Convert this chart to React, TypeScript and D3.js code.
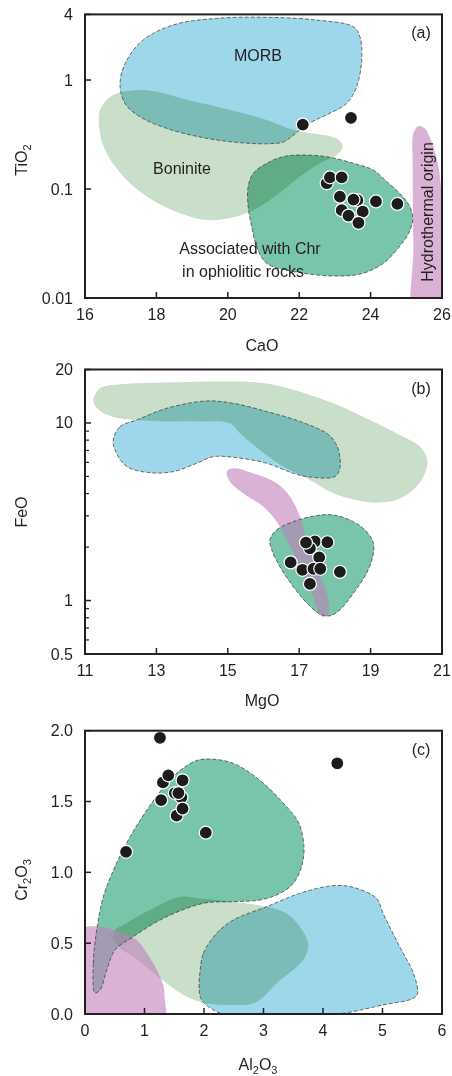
import React from "react";
import * as d3 from "d3";

// ---- panel (a): CaO vs TiO2 ----
const caoTicks = [16, 18, 20, 22, 24, 26];
const tio2Ticks = [0.01, 0.1, 1, 4];
const samplesA: [number, number][] = [
  [22.1, 0.39], [23.45, 0.45], [22.77, 0.113], [22.86, 0.128], [23.19, 0.128],
  [23.14, 0.085], [23.63, 0.079], [23.52, 0.08], [24.15, 0.077], [24.75, 0.073],
  [23.19, 0.064], [23.38, 0.057], [23.78, 0.062], [23.66, 0.049],
];
const morbA: [number, number][] = [
  [16.98, 0.93], [17.17, 1.52], [17.63, 2.33], [18.47, 3.2], [19.69, 3.68], [21.09, 3.76],
  [22.49, 3.55], [23.52, 3.08], [23.7, 2.5], [23.75, 1.52], [23.61, 0.87], [23.33, 0.61],
  [22.77, 0.48], [22.21, 0.39], [21.83, 0.31], [21.55, 0.27], [21.09, 0.26], [20.15, 0.27],
  [19.22, 0.3], [18.29, 0.36], [17.54, 0.46], [17.12, 0.61],
];
const boniniteA: [number, number][] = [
  [23.22, 0.244], [23.05, 0.205], [22.58, 0.172], [22.02, 0.13], [21.55, 0.098], [20.9, 0.069],
  [20.15, 0.055], [19.41, 0.052], [18.66, 0.06], [17.82, 0.082], [17.17, 0.121], [16.61, 0.212],
  [16.42, 0.324], [16.42, 0.53], [16.7, 0.7], [16.98, 0.77], [17.54, 0.81], [18.01, 0.78],
  [18.85, 0.66], [19.69, 0.57], [20.9, 0.45], [21.83, 0.35], [22.49, 0.32], [23.05, 0.29],
];
const chrA: [number, number][] = [
  [20.57, 0.105], [20.71, 0.139], [21.09, 0.172], [21.55, 0.198], [22.02, 0.205], [22.77, 0.198],
  [23.52, 0.172], [24.08, 0.149], [24.45, 0.117], [24.82, 0.091], [25.1, 0.069], [25.18, 0.052],
  [25.06, 0.039], [24.73, 0.0276], [24.36, 0.0208], [23.8, 0.0169], [23.14, 0.0159],
  [22.02, 0.0171], [21.09, 0.0208], [20.81, 0.0296], [20.67, 0.045], [20.57, 0.069],
];
const hydroA: [number, number][] = [
  [25.2, 0.324], [25.34, 0.378], [25.52, 0.36], [25.76, 0.244], [25.9, 0.16], [25.97, 0.105],
  [26.0, 0.03], [26.0, 0.006], [25.24, 0.006], [25.2, 0.03], [25.18, 0.16],
];

// ---- panel (b): MgO vs FeO ----
const mgoTicks = [11, 13, 15, 17, 19, 21];
const feoTicks = [0.5, 1, 10, 20];
const feoMinor = [0.6, 0.7, 0.8, 0.9, 2, 3, 4, 5, 6, 7, 8, 9];
const samplesB: [number, number][] = [
  [17.44, 2.15], [17.3, 1.97], [17.19, 2.12], [17.79, 2.13], [17.56, 1.75], [16.76, 1.64],
  [17.09, 1.49], [17.4, 1.51], [17.59, 1.51], [18.14, 1.45], [17.3, 1.24],
];
const boniniteB: [number, number][] = [
  [11.28, 14.4], [11.42, 15.7], [12.17, 16.6], [13.29, 16.9], [15.15, 17.1], [16.09, 16.7],
  [17.02, 15.0], [17.96, 12.9], [18.89, 10.6], [19.82, 8.55], [20.38, 7.36], [20.59, 6.19],
  [20.48, 4.99], [20.2, 4.2], [19.73, 3.69], [19.26, 3.56], [18.7, 3.64], [17.96, 4.02],
  [17.3, 4.78], [16.55, 5.68], [15.9, 7.05], [15.34, 8.75], [15.06, 9.96], [14.22, 10.2],
  [13.29, 10.2], [12.45, 10.4], [11.79, 10.8], [11.33, 12.1], [11.23, 13.5],
];
const morbB: [number, number][] = [
  [11.79, 8.02], [11.98, 9.53], [12.45, 10.4], [13.29, 12.1], [14.41, 13.3], [15.15, 12.9],
  [16.09, 11.6], [17.02, 10.2], [17.77, 8.75], [17.96, 8.02], [18.1, 7.05], [18.14, 5.56],
  [18.0, 4.99], [17.21, 4.99], [16.83, 5.21], [16.09, 5.93], [15.15, 6.41], [14.59, 6.46],
  [14.13, 5.93], [13.47, 5.32], [12.82, 5.25], [12.17, 5.68], [11.84, 7.05],
];
const hydroB: [number, number][] = [
  [14.97, 5.32], [15.15, 5.56], [15.71, 5.21], [16.37, 4.58], [16.74, 3.85], [17.02, 2.97],
  [17.21, 2.2], [17.49, 1.55], [17.77, 1.1], [17.82, 0.85], [17.72, 0.81], [17.58, 0.83],
  [17.39, 1.05], [17.02, 1.55], [16.65, 2.2], [16.37, 2.78], [15.99, 3.38], [15.43, 4.02],
  [15.06, 4.67],
];
const chrB: [number, number][] = [
  [16.18, 2.2], [16.37, 2.5], [16.83, 2.78], [17.49, 3.01], [17.96, 3.03], [18.52, 2.78],
  [18.89, 2.44], [19.08, 2.1], [19.06, 1.77], [18.89, 1.43], [18.52, 1.1], [18.14, 0.886],
  [17.86, 0.82], [17.58, 0.84], [17.21, 0.97], [16.83, 1.2], [16.46, 1.55], [16.23, 1.93],
];

// ---- panel (c): Al2O3 vs Cr2O3 ----
const al2o3Ticks = [0, 1, 2, 3, 4, 5, 6];
const cr2o3Ticks = [0, 0.5, 1.0, 1.5, 2.0];
const samplesC: [number, number][] = [
  [1.26, 1.95], [4.24, 1.77], [1.31, 1.635], [1.4, 1.685], [1.64, 1.65], [1.51, 1.56],
  [1.62, 1.53], [1.57, 1.56], [1.28, 1.51], [1.54, 1.4], [1.64, 1.45], [2.03, 1.28], [0.69, 1.145],
];
const chrC: [number, number][] = [
  [0.168, 0.15], [0.14, 0.358], [0.197, 0.593], [0.308, 0.828], [0.504, 1.04], [0.756, 1.25],
  [1.04, 1.44], [1.32, 1.6], [1.6, 1.72], [1.88, 1.79], [2.1, 1.8], [2.49, 1.77], [2.94, 1.65],
  [3.33, 1.49], [3.59, 1.35], [3.68, 1.18], [3.64, 1.04], [3.5, 0.922], [3.28, 0.852],
  [2.94, 0.805], [2.49, 0.793], [2.05, 0.786], [1.71, 0.746], [1.26, 0.663], [0.81, 0.546],
  [0.504, 0.452], [0.365, 0.31], [0.252, 0.169],
];
const boniniteC: [number, number][] = [
  [0.504, 0.593], [0.644, 0.628], [1.09, 0.734], [1.6, 0.828], [1.93, 0.816], [2.49, 0.793],
  [3.05, 0.757], [3.39, 0.71], [3.61, 0.616], [3.75, 0.499], [3.7, 0.404], [3.5, 0.31],
  [3.28, 0.24], [3.0, 0.122], [2.83, 0.075], [2.49, 0.064], [2.05, 0.075], [1.71, 0.122],
  [1.37, 0.217], [1.09, 0.31], [0.81, 0.404], [0.56, 0.475], [0.476, 0.546],
];
const morbC: [number, number][] = [
  [1.93, 0.287], [1.99, 0.428], [2.21, 0.569], [2.49, 0.663], [3.05, 0.757], [3.61, 0.852],
  [4.17, 0.906], [4.51, 0.894], [4.9, 0.816], [5.01, 0.71], [5.29, 0.475], [5.52, 0.287],
  [5.59, 0.146], [5.52, 0.111], [5.01, 0.064], [4.34, 0.005], [3.4, -0.03], [2.49, -0.02],
  [2.16, 0.028], [1.96, 0.099], [1.92, 0.169],
];
const hydroC: [number, number][] = [
  [0.017, 0.616], [0.252, 0.616], [0.588, 0.58], [0.869, 0.522], [1.04, 0.428], [1.21, 0.31],
  [1.32, 0.193], [1.34, 0.099], [1.34, -0.05], [0.6, -0.1], [-0.1, -0.1], [-0.1, 0.6],
];

const FONT = "'Liberation Sans', Arial, sans-serif";
const INK = "#231f20";
const left = 85;
const right = 442;

const COLORS = {
  morb: "#9dd7e9",
  boninite: "#c9dfc9",
  chr: "#79c5a9",
  hydro: "#c07fb9",
};

type Shape = { pts: [number, number][]; kind: "morb" | "boninite" | "chr" | "hydro"; outline: boolean };

function Panel(props: {
  id: string;
  top: number;
  bottom: number;
  x: any;
  y: any;
  xTicks: number[];
  yTicks: number[];
  yFmt: (v: number) => string;
  yMinor?: number[];
  shapes: Shape[];
  samples: [number, number][];
  label: string;
  children?: React.ReactNode;
}) {
  const { id, top, bottom, x, y, shapes, samples } = props;
  const line = d3
    .line<[number, number]>()
    .x((d) => x(d[0]))
    .y((d) => y(d[1]))
    .curve(d3.curveCatmullRomClosed.alpha(0.5));

  return (
    <g>
      <defs>
        <clipPath id={"clip-" + id}>
          <rect x={left} y={top} width={right - left} height={bottom - top} />
        </clipPath>
      </defs>
      <g clipPath={`url(#clip-${id})`}>
        {shapes.map((s, i) => (
          <path
            key={"f" + i}
            d={line(s.pts) || ""}
            fill={COLORS[s.kind]}
            fillOpacity={s.kind === "hydro" ? 0.6 : 1}
            style={{ mixBlendMode: s.kind === "hydro" ? "normal" : "multiply" }}
          />
        ))}
        {shapes
          .filter((s) => s.outline)
          .map((s, i) => (
            <path
              key={"o" + i}
              d={line(s.pts) || ""}
              fill="none"
              stroke="#333"
              strokeWidth={0.7}
              strokeDasharray="4,2"
            />
          ))}
        {samples.map((d, i) => (
          <circle key={"p" + i} cx={x(d[0])} cy={y(d[1])} r={6.5} fill="#1c1c1c" stroke="#fff" strokeWidth={1.2} />
        ))}
      </g>
      {props.children}
      {/* ticks drawn inward */}
      {props.xTicks.map((t) => (
        <g key={"xt" + t}>
          <line x1={x(t)} x2={x(t)} y1={bottom} y2={bottom - 6} stroke={INK} strokeWidth={1.5} />
          <text x={x(t)} y={bottom + 22} textAnchor="middle" fontSize={16} fontFamily={FONT} fill={INK}>
            {t}
          </text>
        </g>
      ))}
      {props.yTicks.map((t) => (
        <g key={"yt" + t}>
          <line x1={left} x2={left + 6} y1={y(t)} y2={y(t)} stroke={INK} strokeWidth={1.5} />
          <text x={73} y={y(t) + 5.5} textAnchor="end" fontSize={16} fontFamily={FONT} fill={INK}>
            {props.yFmt(t)}
          </text>
        </g>
      ))}
      {(props.yMinor || []).map((t) => (
        <line key={"ym" + t} x1={left} x2={left + 4} y1={y(t)} y2={y(t)} stroke={INK} strokeWidth={1.2} />
      ))}
      <rect x={left} y={top} width={right - left} height={bottom - top} fill="none" stroke={INK} strokeWidth={2} />
      <text x={421} y={top + 24} textAnchor="middle" fontSize={16} fontFamily={FONT} fill={INK}>
        {props.label}
      </text>
    </g>
  );
}

export default function App() {
  const xA = d3.scaleLinear().domain([16, 26]).range([left, right]);
  const yA = d3.scaleLog().domain([0.01, 4]).range([298, 14.4]);
  const xB = d3.scaleLinear().domain([11, 21]).range([left, right]);
  const yB = d3.scaleLog().domain([0.5, 20]).range([654, 369.5]);
  const xC = d3.scaleLinear().domain([0, 6]).range([left, right]);
  const yC = d3.scaleLinear().domain([0, 2]).range([1014, 730.7]);

  const titleProps = { fontSize: 16, fontFamily: FONT, fill: INK };

  return (
    <svg width={452} height={1076} style={{ position: "absolute", left: 0, top: 0, background: "#fff" }}>
      <Panel
        id="a"
        top={14.4}
        bottom={298}
        x={xA}
        y={yA}
        xTicks={caoTicks}
        yTicks={tio2Ticks}
        yFmt={(v) => String(v)}
        shapes={[
          { pts: boniniteA, kind: "boninite", outline: false },
          { pts: morbA, kind: "morb", outline: true },
          { pts: chrA, kind: "chr", outline: true },
          { pts: hydroA, kind: "hydro", outline: false },
        ]}
        samples={samplesA}
        label="(a)"
      >
        <text x={258} y={61} textAnchor="middle" {...titleProps}>MORB</text>
        <text x={182} y={174} textAnchor="middle" {...titleProps}>Boninite</text>
        <text x={250} y={254} textAnchor="middle" {...titleProps}>Associated with Chr</text>
        <text x={243} y={277} textAnchor="middle" {...titleProps}>in ophiolitic rocks</text>
        <text transform="translate(433,212) rotate(-90)" textAnchor="middle" {...titleProps}>
          Hydrothermal origin
        </text>
      </Panel>
      <text x={262} y={351} textAnchor="middle" {...titleProps}>CaO</text>
      <text transform="translate(27,160) rotate(-90)" textAnchor="middle" {...titleProps}>
        TiO<tspan fontSize={11} dy={4}>2</tspan>
      </text>

      <Panel
        id="b"
        top={369.5}
        bottom={654}
        x={xB}
        y={yB}
        xTicks={mgoTicks}
        yTicks={feoTicks}
        yMinor={feoMinor}
        yFmt={(v) => String(v)}
        shapes={[
          { pts: boniniteB, kind: "boninite", outline: false },
          { pts: morbB, kind: "morb", outline: true },
          { pts: chrB, kind: "chr", outline: true },
          { pts: hydroB, kind: "hydro", outline: false },
        ]}
        samples={samplesB}
        label="(b)"
      />
      <text x={262} y={706} textAnchor="middle" {...titleProps}>MgO</text>
      <text transform="translate(27,512) rotate(-90)" textAnchor="middle" {...titleProps}>
        FeO
      </text>

      <Panel
        id="c"
        top={730.7}
        bottom={1014}
        x={xC}
        y={yC}
        xTicks={al2o3Ticks}
        yTicks={cr2o3Ticks}
        yFmt={(v) => v.toFixed(1)}
        shapes={[
          { pts: chrC, kind: "chr", outline: true },
          { pts: boniniteC, kind: "boninite", outline: false },
          { pts: morbC, kind: "morb", outline: true },
          { pts: hydroC, kind: "hydro", outline: false },
        ]}
        samples={samplesC}
        label="(c)"
      />
      <text x={258} y={1070} textAnchor="middle" {...titleProps}>
        Al<tspan fontSize={11} dy={4}>2</tspan>
        <tspan dy={-4}>O</tspan>
        <tspan fontSize={11} dy={4}>3</tspan>
      </text>
      <text transform="translate(27,880) rotate(-90)" textAnchor="middle" {...titleProps}>
        Cr<tspan fontSize={11} dy={4}>2</tspan>
        <tspan dy={-4}>O</tspan>
        <tspan fontSize={11} dy={4}>3</tspan>
      </text>
    </svg>
  );
}
